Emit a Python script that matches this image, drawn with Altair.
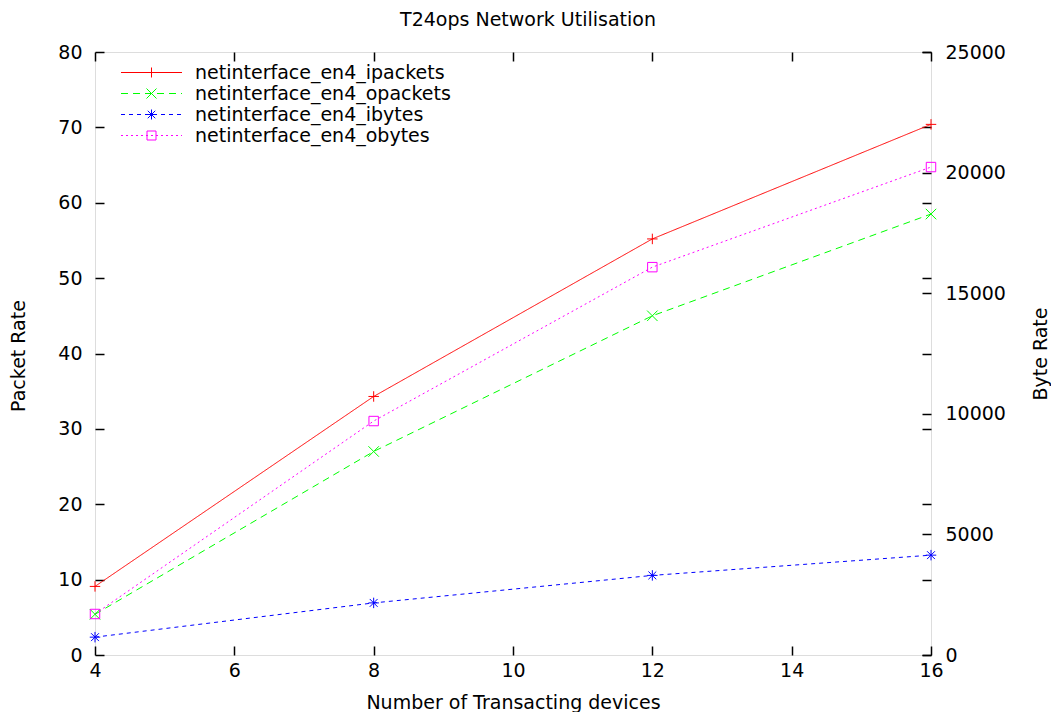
import altair as alt
import pandas as pd

# ---------------- data ----------------
devices = [4, 8, 12, 16]
ipackets = [9.1, 34.3, 55.2, 70.4]
opackets = [5.4, 27.0, 45.0, 58.5]
ibytes = [740, 2160, 3300, 4140]
obytes = [1700, 9700, 16080, 20230]

series_names = [
    "netinterface_en4_ipackets",
    "netinterface_en4_opackets",
    "netinterface_en4_ibytes",
    "netinterface_en4_obytes",
]
series_colors = ["#ff0000", "#00ff00", "#0000ff", "#ff00ff"]
series_dashes = [[1, 0], [7, 5], [4, 4], [2, 3]]
series_shapes = [
    "M-1,0H1M0,-1V1",
    "M-1,-1L1,1M-1,1L1,-1",
    "M-1,0H1M0,-1V1M-0.75,-0.75L0.75,0.75M-0.75,0.75L0.75,-0.75",
    "M-0.9,-0.9H0.9V0.9H-0.9Z",
]

x_ticks = [4, 6, 8, 10, 12, 14, 16]
packet_ticks = [0, 10, 20, 30, 40, 50, 60, 70, 80]
byte_ticks = [0, 5000, 10000, 15000, 20000, 25000]

packets_df = pd.DataFrame({
    "devices": devices + devices,
    "series": [series_names[0]] * 4 + [series_names[1]] * 4,
    "value": ipackets + opackets,
})
bytes_df = pd.DataFrame({
    "devices": devices + devices,
    "series": [series_names[2]] * 4 + [series_names[3]] * 4,
    "value": ibytes + obytes,
})

# ---------------- styling ----------------
FONT = "DejaVu Sans"
FS = 19
TICK = 9
W, H = 836, 603


def xs():
    return alt.Scale(domain=[4, 16], nice=False, zero=False)


def ps():
    return alt.Scale(domain=[0, 80], nice=False)


def bs():
    return alt.Scale(domain=[0, 25000], nice=False)


common_axis = dict(
    offset=-TICK, tickSize=TICK, domain=False, grid=False,
    tickColor="black", tickWidth=1.5,
    labelFont=FONT, labelFontSize=FS, labelColor="black",
    labelFlush=False, labelOverlap=False,
    titleFont=FONT, titleFontSize=FS, titleFontWeight="normal", titleColor="black",
)

x_bottom = alt.Axis(
    orient="bottom", values=x_ticks, labelPadding=6,
    title="Number of Transacting devices", titleX=W / 2, titleY=56,
    titleAlign="center", titleBaseline="middle", **common_axis,
)
x_top = alt.Axis(orient="top", values=x_ticks, labels=False, title=None, **common_axis)
y_left = alt.Axis(
    orient="left", values=packet_ticks, labelPadding=13,
    title="Packet Rate", titleX=-86, titleY=H / 2 + 2, titleAngle=270,
    titleAlign="center", titleBaseline="middle", **common_axis,
)
y_right_mirror = alt.Axis(orient="right", values=packet_ticks, labels=False, title=None, **common_axis)
y_right = alt.Axis(
    orient="right", values=byte_ticks, labelPadding=14, format="d",
    title="Byte Rate", titleX=118, titleY=H / 2, titleAngle=270,
    titleAlign="center", titleBaseline="middle", **common_axis,
)

color_scale = alt.Scale(domain=series_names, range=series_colors)
dash_scale = alt.Scale(domain=series_names, range=series_dashes)
shape_scale = alt.Scale(domain=series_names, range=series_shapes)

legend_common = dict(
    title=None, orient="none", legendX=47, legendY=11, symbolSize=100,
    symbolStrokeWidth=1, labelFont=FONT, labelFontSize=FS, labelColor="black",
    labelOffset=34, rowPadding=1, padding=0, labelLimit=600,
)
legend_lines = alt.Legend(symbolType="M-6.1,0H6.1", **legend_common)
legend_points = alt.Legend(labelOpacity=0, **legend_common)

# ---------------- layers ----------------
packets_line = alt.Chart(packets_df).mark_line(strokeWidth=1).encode(
    x=alt.X("devices:Q", scale=xs(), axis=x_bottom),
    y=alt.Y("value:Q", scale=ps(), axis=y_left),
    color=alt.Color("series:N", scale=color_scale, legend=legend_lines),
    strokeDash=alt.StrokeDash("series:N", scale=dash_scale, legend=legend_lines),
)
bytes_line = alt.Chart(bytes_df).mark_line(strokeWidth=1).encode(
    x=alt.X("devices:Q", scale=xs(), axis=None),
    y=alt.Y("value:Q", scale=bs(), axis=y_right),
    color=alt.Color("series:N", scale=color_scale, legend=legend_lines),
    strokeDash=alt.StrokeDash("series:N", scale=dash_scale, legend=legend_lines),
)
lines_group = alt.layer(packets_line, bytes_line).resolve_scale(x="independent", y="independent")

packets_pts = alt.Chart(packets_df).mark_point(filled=False, size=110, strokeWidth=1, opacity=1).encode(
    x=alt.X("devices:Q", scale=xs(), axis=None),
    y=alt.Y("value:Q", scale=ps(), axis=None),
    color=alt.Color("series:N", scale=color_scale, legend=legend_points),
    shape=alt.Shape("series:N", scale=shape_scale, legend=legend_points),
)
bytes_pts = alt.Chart(bytes_df).mark_point(filled=False, size=110, strokeWidth=1, opacity=1).encode(
    x=alt.X("devices:Q", scale=xs(), axis=None),
    y=alt.Y("value:Q", scale=bs(), axis=None),
    color=alt.Color("series:N", scale=color_scale, legend=legend_points),
    shape=alt.Shape("series:N", scale=shape_scale, legend=legend_points),
)
points_group = alt.layer(packets_pts, bytes_pts).resolve_scale(x="independent", y="independent")

mirror = alt.Chart(packets_df).mark_point(opacity=0, size=1).encode(
    x=alt.X("devices:Q", scale=xs(), axis=x_top),
    y=alt.Y("value:Q", scale=ps(), axis=y_right_mirror),
)

chart = alt.layer(lines_group, points_group, mirror).resolve_scale(
    x="independent", y="independent", color="independent",
    strokeDash="independent", shape="independent",
).properties(
    width=W, height=H,
    title=alt.TitleParams(
        "T24ops Network Utilisation", font=FONT, fontSize=FS, fontWeight="normal",
        color="black", anchor="middle", dx=15, offset=13,
    ),
    padding={"left": 87, "top": 44, "right": 120, "bottom": 57},
    autosize=alt.AutoSizeParams(type="none"),
).configure_view(stroke="black", strokeWidth=1.5).configure(background="white")

chart.save("out.html", embed_options={"renderer": "svg", "actions": False})
